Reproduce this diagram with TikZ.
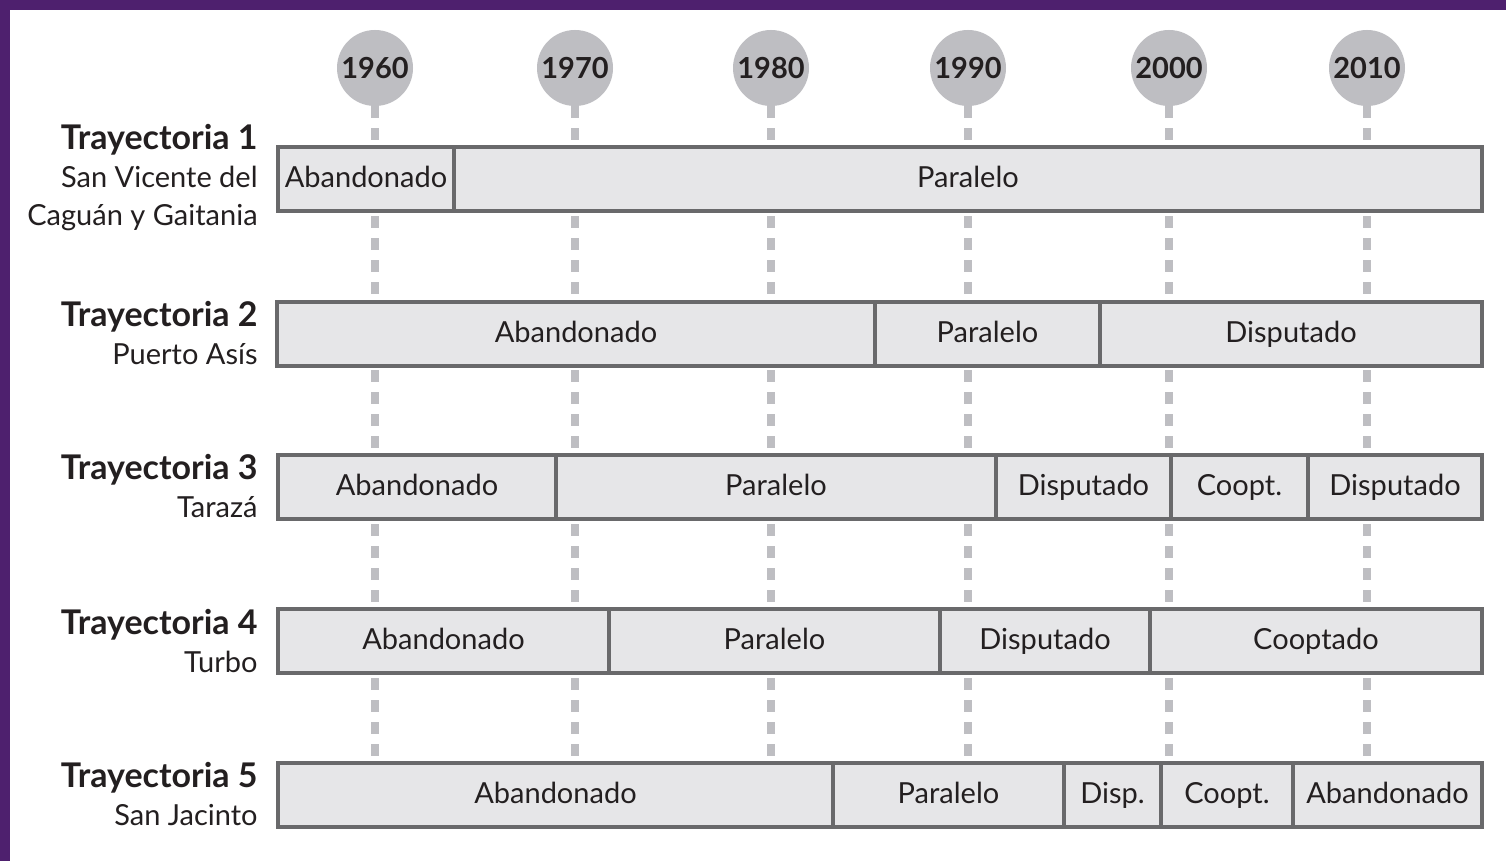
\documentclass[tikz,border=0pt]{standalone}
\usepackage{fontspec}
\setmainfont{Lato}
\definecolor{frame}{RGB}{78,32,110}
\definecolor{barfill}{RGB}{230,230,232}
\definecolor{barline}{RGB}{105,105,107}
\definecolor{yearfill}{RGB}{190,190,194}
\definecolor{ink}{RGB}{35,31,32}

\begin{document}
\begin{tikzpicture}[x=0.5pt,y=-0.5pt,
  guide/.style={draw=yearfill, line width=4pt, dash pattern=on 6pt off 5pt},
  year/.style={circle, fill=yearfill, minimum size=38pt, inner sep=0pt, font=\fontsize{14.5}{16}\selectfont\bfseries, text=ink},
  seg/.style={draw=barline, fill=barfill, line width=1.8pt, minimum height=32pt, inner sep=0pt, text height=11.5pt, text depth=3pt, font=\fontsize{14.5}{16}\selectfont, text=ink},
  lbl/.style={anchor=east, align=right, inner sep=0pt, font=\fontsize{14.5}{19}\selectfont, text=ink}]

%frame and page
\fill[frame] (0,0) rectangle (1506,861);
\fill[white] (10,10) rectangle (1506,861);

%Years
\node[year] (y1960) at (375,68) {1960};
\node[year] (y1970) at (575,68) {1970};
\node[year] (y1980) at (771,68) {1980};
\node[year] (y1990) at (968,68) {1990};
\node[year] (y2000) at (1169,68) {2000};
\node[year] (y2010) at (1367,68) {2010};

%ends of the guides
\coordinate (e1960) at (375,762);
\coordinate (e1970) at (575,762);
\coordinate (e1980) at (771,762);
\coordinate (e1990) at (968,762);
\coordinate (e2000) at (1169,762);
\coordinate (e2010) at (1367,762);

%Dashed guides
\draw[guide] (y1960.south) -- (e1960);
\draw[guide] (y1970.south) -- (e1970);
\draw[guide] (y1980.south) -- (e1980);
\draw[guide] (y1990.south) -- (e1990);
\draw[guide] (y2000.south) -- (e2000);
\draw[guide] (y2010.south) -- (e2010);

%Trayectoria 1
\node[seg, minimum width=88pt] (t1a) at (366,179) {Abandonado};
\node[seg, minimum width=514pt] (t1b) at (968,179) {Paralelo};
%Trayectoria 2
\node[seg, minimum width=299pt] (t2a) at (576,334) {Abandonado};
\node[seg, minimum width=112.5pt] (t2b) at (987.5,334) {Paralelo};
\node[seg, minimum width=191pt] (t2c) at (1291,334) {Disputado};
%Trayectoria 3
\node[seg, minimum width=139pt] (t3a) at (417,487) {Abandonado};
\node[seg, minimum width=220pt] (t3b) at (776,487) {Paralelo};
\node[seg, minimum width=87.5pt] (t3c) at (1083.5,487) {Disputado};
\node[seg, minimum width=68.5pt] (t3d) at (1239.5,487) {Coopt.};
\node[seg, minimum width=87pt] (t3e) at (1395,487) {Disputado};
%Trayectoria 4
\node[seg, minimum width=165.5pt] (t4a) at (443.5,641) {Abandonado};
\node[seg, minimum width=165.5pt] (t4b) at (774.5,641) {Paralelo};
\node[seg, minimum width=105pt] (t4c) at (1045,641) {Disputado};
\node[seg, minimum width=166pt] (t4d) at (1316,641) {Cooptado};
%Trayectoria 5
\node[seg, minimum width=277.5pt] (t5a) at (555.5,795) {Abandonado};
\node[seg, minimum width=115.5pt] (t5b) at (948.5,795) {Paralelo};
\node[seg, minimum width=48.5pt] (t5c) at (1112.5,795) {Disp.};
\node[seg, minimum width=66pt] (t5d) at (1227,795) {Coopt.};
\node[seg, minimum width=94.5pt] (t5e) at (1387.5,795) {Abandonado};

% Text Node
\node[lbl] (l1) at (258,178) {{\fontsize{17}{19}\selectfont\bfseries Trayectoria 1}\\San Vicente del\\Caguán y Gaitania};
% Text Node
\node[lbl] (l2) at (258,333) {{\fontsize{17}{19}\selectfont\bfseries Trayectoria 2}\\Puerto Asís};
% Text Node
\node[lbl] (l3) at (258,486) {{\fontsize{17}{19}\selectfont\bfseries Trayectoria 3}\\Tarazá};
% Text Node
\node[lbl] (l4) at (258,641) {{\fontsize{17}{19}\selectfont\bfseries Trayectoria 4}\\Turbo};
% Text Node
\node[lbl] (l5) at (258,794) {{\fontsize{17}{19}\selectfont\bfseries Trayectoria 5}\\San Jacinto};

\end{tikzpicture}
\end{document}
